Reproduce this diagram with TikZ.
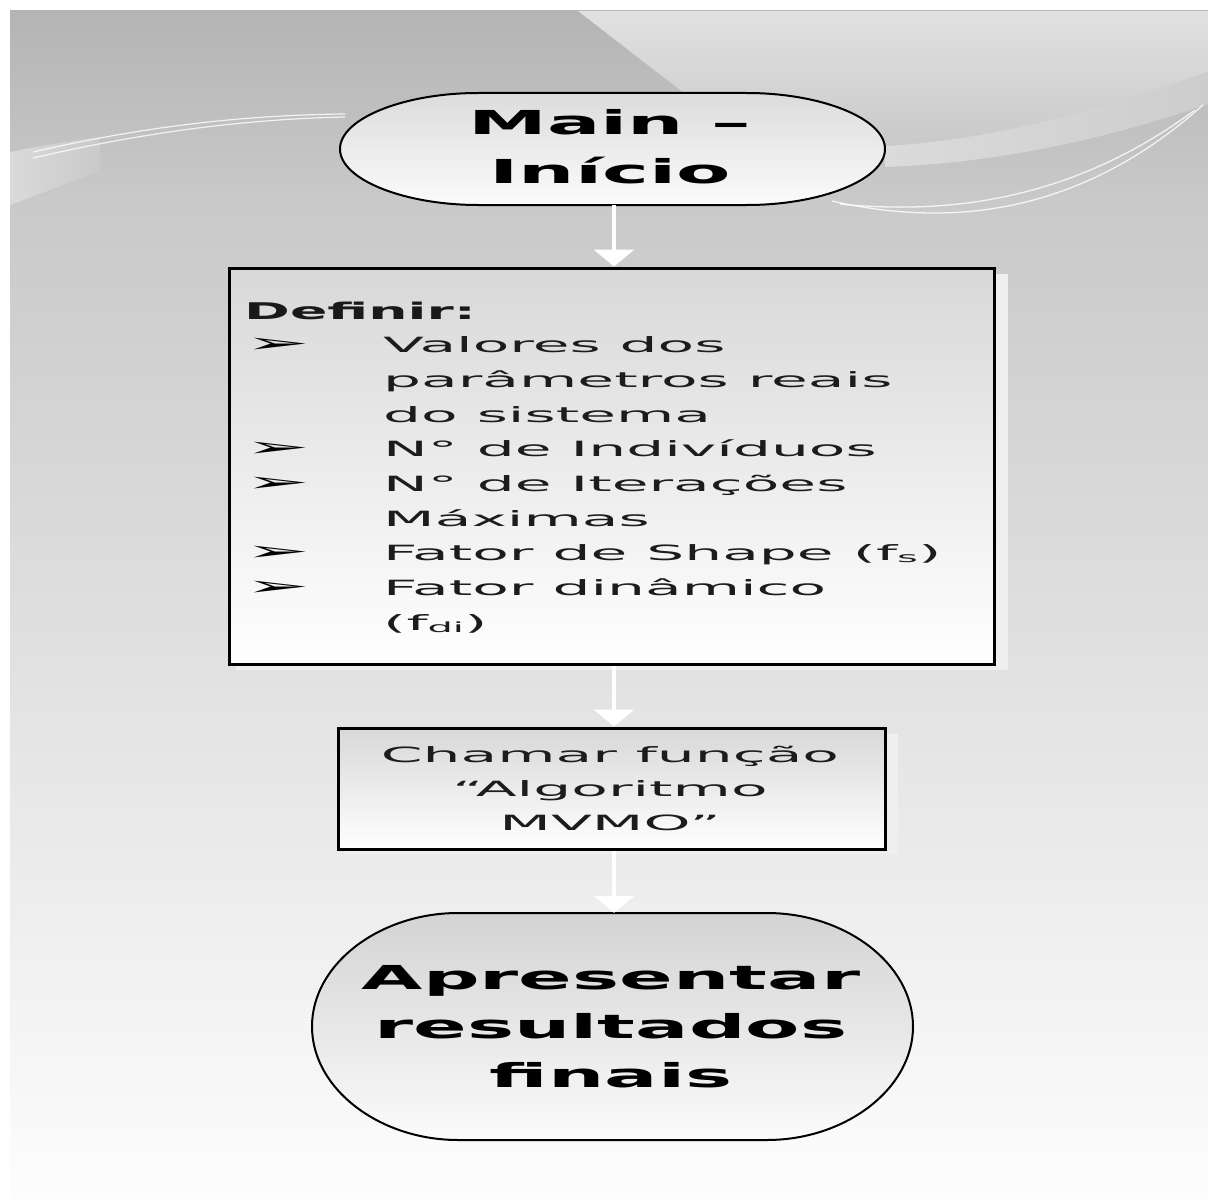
\documentclass[tikz,border=0pt]{standalone}
\usepackage{fontspec}
\newfontfamily\ttlfont[FakeStretch=2.4]{DejaVu Sans}
\newfontfamily\bdyfont[FakeStretch=2.85]{DejaVu Sans}
\usetikzlibrary{arrows.meta}
\definecolor{bgA}{HTML}{B4B4B4}
\definecolor{bgB}{HTML}{C9C9C9}
\definecolor{bgC}{HTML}{FDFDFD}
\definecolor{swLight}{HTML}{E1E1E1}
\definecolor{wedgeL}{HTML}{DADADA}
\definecolor{bandL}{HTML}{DBDBDB}
\definecolor{bandR}{HTML}{CDCDCD}
\definecolor{shadowc}{HTML}{EFEFEF}
\definecolor{boxtop}{HTML}{D8D8D8}
\definecolor{termtop}{HTML}{DCDCDC}
\definecolor{termtopb}{HTML}{D3D3D3}
\definecolor{termbot}{HTML}{FBFBFB}
\definecolor{bodyc}{HTML}{1C1C1C}
\tikzset{
  procbox/.style={draw=black, line width=3pt, top color=boxtop, bottom color=white, rectangle, inner sep=0pt},
  termshape/.style={draw=black, line width=2pt, top color=termtop, bottom color=termbot},
  hookbox/.style={draw=none, rectangle, inner sep=0pt},
  flowarrow/.style={draw=white, line width=4.5pt, -{Triangle[width=40pt,length=17pt]}},
  termtext/.style={font=\ttlfont\bfseries\fontsize{33}{33}\selectfont, anchor=base, inner sep=0pt, text=black},
  headtext/.style={font=\ttlfont\bfseries\fontsize{23}{23}\selectfont, anchor=base west, inner sep=0pt, text=black!90},
  bodytext/.style={font=\bdyfont\fontsize{21}{21}\selectfont, anchor=base west, inner sep=0pt, text=bodyc},
  calltext/.style={font=\bdyfont\fontsize{21}{21}\selectfont, anchor=base, inner sep=0pt, text=bodyc},
  bulletmark/.style={font=\bdyfont\fontsize{27}{27}\selectfont, anchor=base west, inner sep=0pt, text=black}
}
\newcommand{\subtxt}[1]{\raisebox{-2pt}{\fontsize{14}{14}\selectfont #1}}
\begin{document}
\begin{tikzpicture}[x=1pt,y=-1pt]
\useasboundingbox (0,0) rectangle (1208,1204);
% page and background panel
\fill[white] (0,0) rectangle (1208,1204);
\shade[top color=bgA, bottom color=bgB] (10,11) rectangle (1208,201);
\shade[top color=bgB, bottom color=bgC] (10,200) rectangle (1208,1200);
% top-right light region
\shade[top color=swLight, bottom color=bgB] (578,11) -- (1208,11) -- (1208,72)
  .. controls (1100,110) and (990,140) .. (890,146)
  .. controls (790,140) and (720,120) .. (680,90) -- cycle;
% light band on the right
\shade[left color=bandL, right color=bandR] (885,146) .. controls (1000,140) and (1110,105) .. (1208,72)
  -- (1208,104) .. controls (1110,138) and (1000,163) .. (885,167) -- cycle;
% left light wedge
\shade[left color=wedgeL, right color=bgB] (10,152) .. controls (40,146) and (70,141) .. (100,137)
  -- (100,172) .. controls (70,182) and (40,194) .. (10,205) -- cycle;
% thin white swoosh lines
\draw[white, line width=1.2pt, opacity=0.8] (33,152) .. controls (150,125) and (250,115) .. (345,114);
\draw[white, line width=1.2pt, opacity=0.8] (33,158) .. controls (150,131) and (250,119) .. (345,117);
\draw[white, line width=1.3pt, opacity=0.8] (832,201) .. controls (950,228) and (1080,215) .. (1203,105);
\draw[white, line width=1.3pt, opacity=0.8] (840,204) .. controls (960,216) and (1080,195) .. (1195,110);
% box shadows
\fill[shadowc] (236,274) rectangle (1008,670);
\fill[shadowc] (344,734) rectangle (898,854);
% terminal shapes
\path[termshape] (478,93) -- (747,93) .. controls (820,93) and (885,118.1) .. (885,149)
  .. controls (885,179.9) and (820,205) .. (747,205) -- (478,205)
  .. controls (405,205) and (340,179.9) .. (340,149)
  .. controls (340,118.1) and (405,93) .. (478,93) -- cycle;
\path[termshape, top color=termtopb] (458,913) -- (767,913) .. controls (845,913) and (913,963.8) .. (913,1026.5)
  .. controls (913,1089.2) and (845,1140) .. (767,1140) -- (458,1140)
  .. controls (380,1140) and (312,1089.2) .. (312,1026.5)
  .. controls (312,963.8) and (380,913) .. (458,913) -- cycle;
% named nodes
\node[hookbox, minimum width=545pt, minimum height=112pt] (start) at (612.5,149) {};
\node[procbox, minimum width=765pt, minimum height=396pt] (def) at (611.5,466) {};
\node[procbox, minimum width=547pt, minimum height=121pt] (call) at (611.5,788.5) {};
\node[hookbox, minimum width=601pt, minimum height=227pt] (stop) at (612.5,1026.5) {};
% connectors
\draw[flowarrow] ([xshift=1.5pt]start.south) -- ([xshift=1.5pt]start.south |- def.north);
\draw[flowarrow] ([xshift=2.5pt]def.south) -- ([xshift=2.5pt]def.south |- call.north);
\draw[flowarrow] ([xshift=2.5pt]call.south) -- ([xshift=2.5pt]call.south |- stop.north);
% start text
\node[termtext] (s1) at (610,135) {Main –};
\node[termtext] (s2) at (610,184) {Início};
% definir block
\node[headtext] (h0) at (244,319) {Definir:};
\node[bulletmark] (b1) at (245,352.7) {➢};
\node[bulletmark] (b2) at (245,456.8) {➢};
\node[bulletmark] (b3) at (245,491.5) {➢};
\node[bulletmark] (b4) at (245,560.9) {➢};
\node[bulletmark] (b5) at (245,595.6) {➢};
\node[bodytext] (l1) at (383,352.7) {Valores dos};
\node[bodytext] (l2) at (383,387.4) {parâmetros reais};
\node[bodytext] (l3) at (383,422.1) {do sistema};
\node[bodytext] (l4) at (383,456.8) {N° de Indivíduos};
\node[bodytext] (l5) at (383,491.5) {N° de Iterações};
\node[bodytext] (l6) at (383,526.2) {Máximas};
\node[bodytext] (l7) at (383,560.9) {Fator de Shape (f\subtxt{s})};
\node[bodytext] (l8) at (383,595.6) {Fator dinâmico};
\node[bodytext] (l9) at (383,630.3) {(f\subtxt{di})};
% call text
\node[calltext] (c1) at (610,762) {Chamar função};
\node[calltext] (c2) at (610,796.5) {“Algoritmo};
\node[calltext] (c3) at (610,830.5) {MVMO”};
% stop text
\node[termtext] (e1) at (611,989.6) {Apresentar};
\node[termtext] (e2) at (611,1038.5) {resultados};
\node[termtext] (e3) at (611,1087) {finais};
\end{tikzpicture}
\end{document}
